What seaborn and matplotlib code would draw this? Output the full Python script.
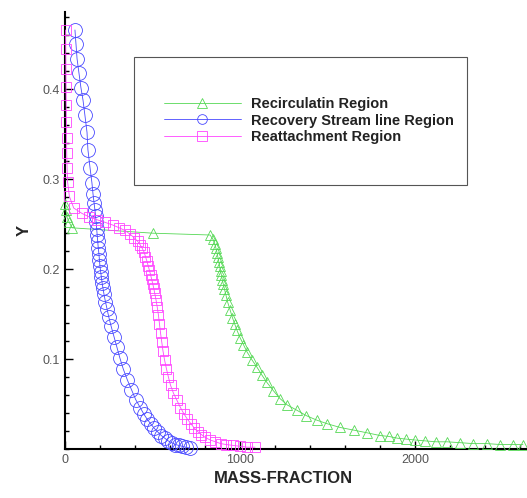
import numpy as np
import pandas as pd
import matplotlib
matplotlib.use("Agg")
import matplotlib.pyplot as plt
import seaborn as sns
from matplotlib.ticker import MultipleLocator, FixedLocator
from matplotlib.patches import Rectangle

# Recirculatin Region (triangles)
recirc_x = [2, 6, 11, 25, 40, 503, 829, 846, 856, 863, 869, 874, 879, 884, 889, 894,
            899, 905, 911, 920, 930, 943, 957, 970, 983, 1000, 1020, 1040, 1069, 1097,
            1126, 1154, 1190, 1229, 1270, 1326, 1380, 1440, 1500, 1571, 1650, 1726,
            1800, 1850, 1900, 1950, 2000, 2060, 2120, 2183, 2260, 2331, 2410, 2486,
            2560, 2617]
recirc_y = [0.273, 0.266, 0.258, 0.252, 0.246, 0.240, 0.238, 0.233, 0.228, 0.223,
            0.218, 0.213, 0.208, 0.203, 0.198, 0.193, 0.188, 0.183, 0.178, 0.171,
            0.163, 0.155, 0.146, 0.139, 0.132, 0.124, 0.116, 0.108, 0.099, 0.091,
            0.082, 0.074, 0.065, 0.056, 0.049, 0.043, 0.037, 0.032, 0.028, 0.024,
            0.021, 0.018, 0.015, 0.014, 0.012, 0.011, 0.010, 0.009, 0.008, 0.008,
            0.007, 0.006, 0.006, 0.005, 0.005, 0.005]

# Recovery Stream line Region (circles)
recov_x = [57, 63, 69, 80, 91, 103, 114, 126, 131, 143, 154, 160, 166, 171, 175, 178,
           181, 184, 187, 190, 194, 197, 200, 204, 208, 212, 217, 223, 231, 240, 250,
           263, 280, 297, 314, 333, 356, 380, 404, 430, 450, 470, 490, 510, 530, 550,
           570, 590, 610, 630, 650, 670, 690, 714]
recov_y = [0.466, 0.450, 0.434, 0.418, 0.402, 0.388, 0.371, 0.352, 0.333, 0.313,
           0.296, 0.284, 0.274, 0.266, 0.259, 0.252, 0.245, 0.238, 0.231, 0.224,
           0.217, 0.210, 0.203, 0.197, 0.191, 0.185, 0.179, 0.172, 0.164, 0.156,
           0.147, 0.137, 0.125, 0.113, 0.101, 0.089, 0.077, 0.066, 0.055, 0.046,
           0.039, 0.033, 0.028, 0.023, 0.019, 0.015, 0.012, 0.009, 0.007, 0.005,
           0.004, 0.003, 0.002, 0.001]

# Reattachment Region (squares)
reatt_x = [3, 4, 5, 6, 7, 8, 9, 10, 12, 15, 25, 50, 97, 140, 183, 230, 274, 310, 343,
           371, 395, 415, 430, 442, 452, 460, 468, 475, 482, 489, 495, 501, 507, 513,
           520, 527, 534, 540, 546, 553, 560, 569, 580, 591, 603, 620, 640, 660, 680,
           700, 720, 740, 760, 780, 800, 830, 860, 890, 920, 960, 1000, 1040, 1086]
reatt_y = [0.466, 0.445, 0.423, 0.403, 0.383, 0.364, 0.346, 0.329, 0.313, 0.297,
           0.281, 0.268, 0.262, 0.258, 0.255, 0.252, 0.249, 0.246, 0.243, 0.239,
           0.235, 0.231, 0.227, 0.223, 0.219, 0.214, 0.209, 0.204, 0.199, 0.194,
           0.189, 0.184, 0.179, 0.173, 0.166, 0.158, 0.149, 0.139, 0.129, 0.119,
           0.109, 0.099, 0.089, 0.080, 0.071, 0.062, 0.054, 0.046, 0.039, 0.033,
           0.028, 0.023, 0.019, 0.016, 0.013, 0.010, 0.008, 0.006, 0.005, 0.004,
           0.003, 0.002, 0.002]

labels = ["Recirculatin Region", "Recovery Stream line Region", "Reattachment Region"]
colors = ["#55d855", "#4848ff", "#ff44ff"]
markers = ["^", "o", "s"]
sizes = [7, 10, 7]

sns.set_style("ticks")
plt.rcParams['font.family'] = ['Liberation Sans', 'DejaVu Sans']

fig = plt.figure(figsize=(5.27, 4.98), dpi=100)
ax = fig.add_axes([0.1233, 0.0984, 0.8767, 0.8775])

series = [(recirc_x, recirc_y), (recov_x, recov_y), (reatt_x, reatt_y)]
for (xs, ys), lab, c, m, s in zip(series, labels, colors, markers, sizes):
    df = pd.DataFrame({"x": xs, "y": ys})
    sns.lineplot(data=df, x="x", y="y", sort=False, ax=ax, color=c, lw=0.6,
                 marker=m, markersize=s, markerfacecolor="none",
                 markeredgecolor=c, markeredgewidth=0.6, label=lab,
                 clip_on=False, zorder=3)

ax.set_xlim(0, 2640)
ax.set_ylim(0, 0.486)
ax.xaxis.set_major_locator(FixedLocator([0, 1000, 2000]))
ax.xaxis.set_minor_locator(MultipleLocator(200))
ax.yaxis.set_major_locator(FixedLocator([0.1, 0.2, 0.3, 0.4]))
ax.yaxis.set_minor_locator(MultipleLocator(0.02))
ax.tick_params(which="both", direction="in", colors="black", labelcolor="#555555",
               labelsize=9, width=1)
ax.tick_params(which="major", length=6)
ax.tick_params(which="minor", length=3)
sns.despine(ax=ax)
for sp in ["left", "bottom"]:
    ax.spines[sp].set_linewidth(1.5)
    ax.spines[sp].set_color("black")

ax.set_xlabel("MASS-FRACTION", fontsize=12, fontweight="bold")
ax.xaxis.set_label_coords(0.472, -0.05, transform=ax.transAxes)
ax.xaxis.label.set_va("top")
ax.set_ylabel("Y", fontsize=12, fontweight="bold", labelpad=8)

# legend frame
ax.add_patch(Rectangle((0.149, 0.604), 0.721, 0.293, transform=ax.transAxes,
                       fill=False, edgecolor="#555555", lw=0.8, zorder=4))
leg = ax.legend(loc="upper left", bbox_to_anchor=(0.198, 0.822), frameon=False,
                prop={"size": 10.5, "weight": "bold"}, handlelength=5.3,
                handletextpad=0.7, labelspacing=0.17, borderpad=0)
for t in leg.get_texts():
    t.set_color("#222222")
for h in leg.legend_handles:
    h.set_markersize(7)

fig.savefig("out.png", dpi=100)
